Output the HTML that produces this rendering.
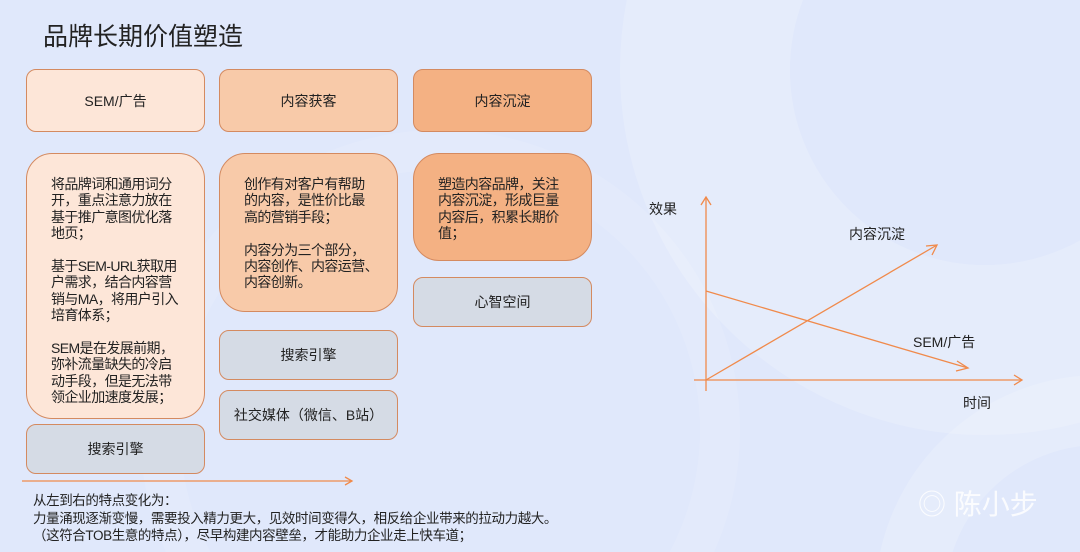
<!DOCTYPE html>
<html><head><meta charset="utf-8"><style>
body{margin:0;width:1080px;height:552px;overflow:hidden;background:#e0e8fb;font-family:"Liberation Sans","Noto Sans CJK SC",sans-serif;color:#222;position:relative}
.b{position:absolute;box-sizing:border-box;border:1.3px solid #d48a60;border-radius:10px;font-size:14px;display:flex;align-items:center;justify-content:center;text-align:center}
.t{position:absolute;box-sizing:border-box;border:1.3px solid #d48a60;border-radius:26px;font-size:14px;line-height:16.4px;padding:22px 20px 0 24px;letter-spacing:-0.6px;overflow:hidden}
.c1{background:#fde6d8}.c2{background:#f8caa9}.c3{background:#f4b183}.g{background:#d5dbe5}
.s{position:absolute;font-size:13px;white-space:nowrap}
</style></head><body>
<svg width="1080" height="552" style="position:absolute;left:0;top:0">
<g fill="none" stroke="#ffffff">
<circle cx="985" cy="70" r="280" stroke-width="170" stroke-opacity="0.18"/>
<circle cx="1100" cy="600" r="190" stroke-width="70" stroke-opacity="0.18"/>
<circle cx="440" cy="430" r="280" stroke-width="40" stroke-opacity="0.12"/>
</g>
<g stroke="#f08a4b" stroke-width="1.3" fill="none">
<line x1="706" y1="391" x2="706" y2="197"/><polyline points="701,205 706,197 711,205"/>
<line x1="694" y1="380" x2="1022" y2="380"/><polyline points="1014,375 1022,380 1014,385"/>
<line x1="706" y1="380" x2="937" y2="245"/><polyline points="926,246 937,245 932,255"/>
<line x1="706" y1="291" x2="968" y2="368"/><polyline points="957,361 968,368 956,371"/>
<line x1="22" y1="481" x2="352" y2="481"/><polyline points="345,477 352,481 345,485"/>
</g>
</svg>
<div class="s" style="left:43px;top:17px;font-size:25px">品牌长期价值塑造</div>
<div class="b c1" style="left:26px;top:69px;width:179px;height:63px">SEM/广告</div>
<div class="b c2" style="left:219px;top:69px;width:179px;height:63px">内容获客</div>
<div class="b c3" style="left:413px;top:69px;width:179px;height:63px">内容沉淀</div>
<div class="t c1" style="left:26px;top:153px;width:179px;height:266px">将品牌词和通用词分开，重点注意力放在基于推广意图优化落地页；<br><br>基于SEM-URL获取用户需求，结合内容营销与MA，将用户引入培育体系；<br><br>SEM是在发展前期，弥补流量缺失的冷启动手段，但是无法带领企业加速度发展；</div>
<div class="t c2" style="left:219px;top:153px;width:179px;height:159px;padding-right:10px">创作有对客户有帮助<br>的内容，是性价比最<br>高的营销手段；<br><br>内容分为三个部分，<br>内容创作、内容运营、<br>内容创新。</div>
<div class="t c3" style="left:413px;top:153px;width:179px;height:108px">塑造内容品牌，关注内容沉淀，形成巨量内容后，积累长期价值；</div>
<div class="b g" style="left:413px;top:277px;width:179px;height:50px">心智空间</div>
<div class="b g" style="left:219px;top:330px;width:179px;height:50px">搜索引擎</div>
<div class="b g" style="left:219px;top:390px;width:179px;height:50px">社交媒体（微信、B站）</div>
<div class="b g" style="left:26px;top:424px;width:179px;height:50px">搜索引擎</div>
<div class="s" style="left:33px;top:492px;line-height:17.5px;font-size:13.5px;letter-spacing:-0.4px">从左到右的特点变化为：<br>力量涌现逐渐变慢，需要投入精力更大，见效时间变得久，相反给企业带来的拉动力越大。<br>（这符合TOB生意的特点），尽早构建内容壁垒，才能助力企业走上快车道；</div>
<div class="s" style="left:649px;top:199px;font-size:14px">效果</div>
<div class="s" style="left:849px;top:224px;font-size:14px">内容沉淀</div>
<div class="s" style="left:913px;top:332px;font-size:14px">SEM/广告</div>
<div class="s" style="left:963px;top:393px;font-size:14px">时间</div>
<div class="s" style="left:918px;top:483px;font-size:28px;color:#fff;opacity:.85">◎ 陈小步</div>
</body></html>
